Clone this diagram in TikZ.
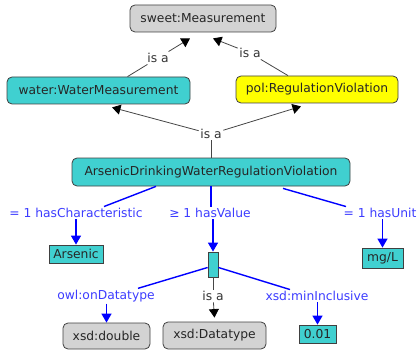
\documentclass[tikz,border=0pt]{standalone}
\usepackage{fontspec}
\setmainfont{DejaVu Sans}
\usetikzlibrary{arrows.meta}
\definecolor{cy}{RGB}{64,208,208}
\definecolor{gr}{RGB}{211,211,211}
\definecolor{ye}{RGB}{255,255,0}
\definecolor{bl}{RGB}{0,0,255}
\definecolor{bltext}{RGB}{60,60,255}
\definecolor{edgec}{RGB}{70,70,70}
\begin{document}
\begin{tikzpicture}[x=1pt,y=-1pt, font=\fontsize{12.3}{14}\selectfont,
 box/.style={draw=black!75, line width=0.8pt, inner sep=0pt, text=black!85},
 rbox/.style={box, rounded corners=5pt},
 lab/.style={inner sep=1.5pt, text=black!80},
 blab/.style={inner sep=1.5pt, text=bltext},
 isaline/.style={draw=edgec, line width=0.8pt},
 isaarrow/.style={isaline, -{Triangle[width=10pt,length=8.5pt,color=black]}},
 relline/.style={draw=bl, line width=1.4pt},
 relarrow/.style={relline, -{Triangle[width=10pt,length=9pt]}}]
\useasboundingbox (0,0) rectangle (418,353);

% class nodes
\node[rbox, fill=gr, minimum width=146pt, minimum height=27pt] (sweet) at (203,18.5) {sweet:Measurement};
\node[rbox, fill=cy, minimum width=183pt, minimum height=27pt] (water) at (98.5,90.5) {water:WaterMeasurement};
\node[rbox, fill=ye, minimum width=162pt, minimum height=27pt] (pol) at (317,89.5) {pol:RegulationViolation};
\node[rbox, fill=cy, minimum width=278pt, minimum height=28pt] (arsv) at (211,172) {ArsenicDrinkingWaterRegulationViolation};
\node[box, fill=cy, minimum width=54pt, minimum height=18pt] (arsenic) at (76,254) {Arsenic};
\node[box, fill=cy, minimum width=10pt, minimum height=25pt] (restr) at (213,264.5) {};
\node[box, fill=cy, minimum width=41pt, minimum height=20pt] (mgl) at (382.5,258) {mg/L};
\node[rbox, fill=gr, minimum width=87pt, minimum height=26pt] (double) at (106.5,336) {xsd:double};
\node[rbox, fill=gr, minimum width=103pt, minimum height=27pt] (dtype) at (214.5,335.5) {xsd:Datatype};
\node[box, fill=cy, minimum width=37pt, minimum height=18pt] (val) at (317.5,334) {0.01};

% labels
\node[lab] (isa1) at (158,58) {is a};
\node[lab] (isa2) at (250,53) {is a};
\node[lab] (isa3) at (211,134) {is a};
\node[lab] (isa4) at (213,296) {is a};
\node[blab] (hchar) at (76,213) {= 1 hasCharacteristic};
\node[blab] (hval) at (210,213) {≥ 1 hasValue};
\node[blab] (hunit) at (380,213) {= 1 hasUnit};
\node[blab] (ondt) at (106,296) {owl:onDatatype};
\node[blab] (minin) at (317,296) {xsd:minInclusive};

% is a edges
\draw[isaline] ([xshift=29pt]water.north) -- (isa1);
\draw[isaarrow] (isa1) -- ([xshift=-13pt,yshift=-6pt]sweet.south);
\draw[isaline] ([xshift=-29pt]pol.north) -- (isa2);
\draw[isaarrow] (isa2) -- ([xshift=10pt,yshift=-6pt]sweet.south);
\draw[isaline] (arsv.north) -- (isa3);
\draw[isaarrow] (isa3) -- ([xshift=13.5pt,yshift=-3pt]water.south);
\draw[isaarrow] (isa3) -- ([xshift=-16pt,yshift=-3pt]pol.south);
\draw[isaline] (restr.south) -- (isa4);
\draw[isaarrow] (isa4) -- ([yshift=4pt]dtype.north);

% relation edges
\draw[relline] ([xshift=-55pt]arsv.south) -- ([xshift=28pt]hchar.north);
\draw[relarrow] (hchar.south) -- (arsenic.north);
\draw[relline] (arsv.south) -- (hval.north -| arsv.south);
\draw[relarrow] (hval.south -| restr.north) -- (restr.north);
\draw[relline] ([xshift=72pt,yshift=-2pt]arsv.south) -- ([xshift=-34pt]hunit.north);
\draw[relarrow] (hunit.south -| mgl.north) -- (mgl.north);
\draw[relline] ([yshift=-3pt]restr.west) -- ([xshift=32pt]ondt.north);
\draw[relarrow] (ondt.south -| double.north) -- (double.north);
\draw[relline] ([yshift=-3pt]restr.east) -- ([xshift=-27pt]minin.north);
\draw[relarrow] (minin.south -| val.north) -- (val.north);
\end{tikzpicture}
\end{document}
